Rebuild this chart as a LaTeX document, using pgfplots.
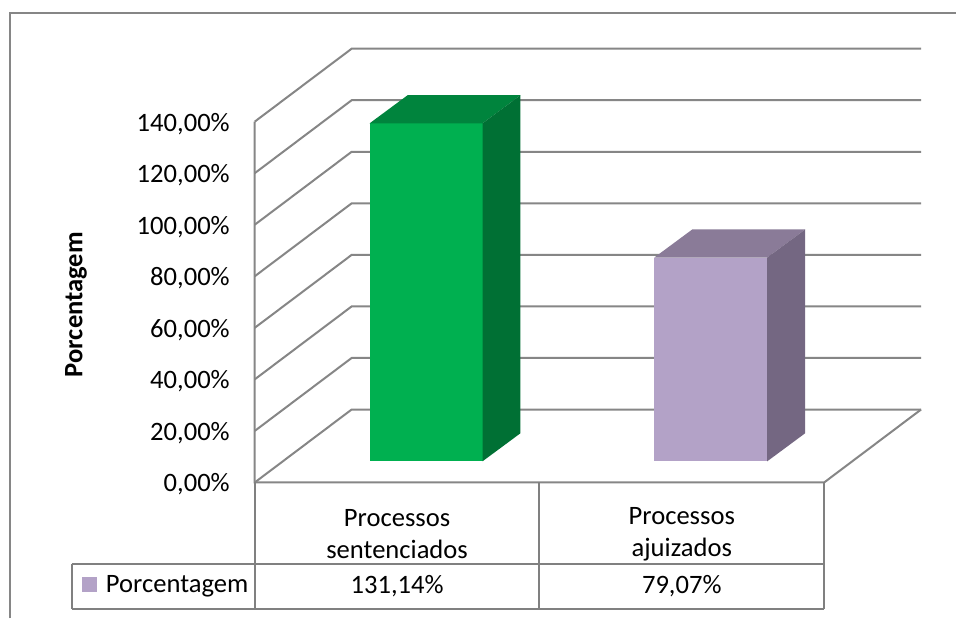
\documentclass[border=0pt]{standalone}
\usepackage{pgfplots}
\pgfplotsset{compat=1.18}
\usepackage{fontspec}
\setmainfont{Carlito}
\definecolor{gridc}{RGB}{134,134,134}
\definecolor{tabc}{RGB}{128,128,128}
\definecolor{gfront}{RGB}{0,176,80}
\definecolor{gtop}{RGB}{0,132,61}
\definecolor{gside}{RGB}{0,112,52}
\definecolor{pfront}{RGB}{179,162,199}
\definecolor{ptop}{RGB}{138,123,152}
\definecolor{pside}{RGB}{116,103,130}
\begin{document}
\begin{tikzpicture}
% data values (percent)
\pgfmathsetmacro\vA{131.14}
\pgfmathsetmacro\vB{79.07}
% 3D geometry: bar base (depth offset) and bar depth in % units
\pgfmathsetmacro\B{8.2}
\pgfmathsetmacro\bd{10.9}
\pgfmathsetmacro\tA{\B+\vA}
\pgfmathsetmacro\tAb{\tA+\bd}
\pgfmathsetmacro\tB{\B+\vB}
\pgfmathsetmacro\tBb{\tB+\bd}
\pgfmathsetmacro\Bb{\B+\bd}
\begin{axis}[x=0.5pt, y=1.29pt, xmin=0, xmax=957, ymin=-52.7, ymax=187.2,
  axis lines=none, clip=false, no markers,
  font=\fontsize{13.3}{16}\selectfont]
\fill[white] (axis cs:0,-52.7) rectangle (axis cs:957,187.2);
% frame
\addplot[gridc, line width=1pt] coordinates {(10,-52.7) (10,182.2) (957,182.2)};
% walls and gridlines
\addplot[gridc, line width=1pt] coordinates {(255,0) (352,28.3) (922,28.3)};
\addplot[gridc, line width=1pt] coordinates {(255,20) (352,48.3) (922,48.3)};
\addplot[gridc, line width=1pt] coordinates {(255,40) (352,68.3) (922,68.3)};
\addplot[gridc, line width=1pt] coordinates {(255,60) (352,88.3) (922,88.3)};
\addplot[gridc, line width=1pt] coordinates {(255,80) (352,108.3) (922,108.3)};
\addplot[gridc, line width=1pt] coordinates {(255,100) (352,128.3) (922,128.3)};
\addplot[gridc, line width=1pt] coordinates {(255,120) (352,148.3) (922,148.3)};
\addplot[gridc, line width=1pt] coordinates {(255,140) (352,168.3) (922,168.3)};
\addplot[gridc, line width=1pt] coordinates {(255,140) (255,0) (825,0) (922,28.3)};
% data table lines
\addplot[tabc, line width=1pt] coordinates {(255,0) (255,-49.2)};
\addplot[tabc, line width=1pt] coordinates {(540,0) (540,-49.2)};
\addplot[tabc, line width=1pt] coordinates {(825,0) (825,-49.2)};
\addplot[tabc, line width=1pt] coordinates {(72,-31.8) (825,-31.8)};
\addplot[tabc, line width=1pt] coordinates {(72,-49.2) (825,-49.2)};
\addplot[tabc, line width=1pt] coordinates {(72,-31.8) (72,-49.2)};
% green bar (Processos sentenciados)
\addplot[fill=gfront, draw=none] coordinates {(370,\B) (483,\B) (483,\tA) (370,\tA)} -- cycle;
\addplot[fill=gtop, draw=none] coordinates {(370,\tA) (483,\tA) (521,\tAb) (408,\tAb)} -- cycle;
\addplot[fill=gside, draw=none] coordinates {(483,\B) (521,\Bb) (521,\tAb) (483,\tA)} -- cycle;
% purple bar (Processos ajuizados)
\addplot[fill=pfront, draw=none] coordinates {(655,\B) (768,\B) (768,\tB) (655,\tB)} -- cycle;
\addplot[fill=ptop, draw=none] coordinates {(655,\tB) (768,\tB) (806,\tBb) (693,\tBb)} -- cycle;
\addplot[fill=pside, draw=none] coordinates {(768,\B) (806,\Bb) (806,\tBb) (768,\tB)} -- cycle;
% legend key
\addplot[fill=pfront, draw=none] coordinates {(82,-36.8) (97,-36.8) (97,-42.6) (82,-42.6)} -- cycle;
% tick labels
\node[anchor=east] at (axis cs:237,-0.8) {0,00\%};
\node[anchor=east] at (axis cs:237,19.2) {20,00\%};
\node[anchor=east] at (axis cs:237,39.2) {40,00\%};
\node[anchor=east] at (axis cs:237,59.2) {60,00\%};
\node[anchor=east] at (axis cs:237,79.2) {80,00\%};
\node[anchor=east] at (axis cs:237,99.2) {100,00\%};
\node[anchor=east] at (axis cs:237,119.2) {120,00\%};
\node[anchor=east] at (axis cs:237,139.2) {140,00\%};
% y label
\node[rotate=90, font=\fontsize{13.3}{16}\selectfont\bfseries] at (axis cs:76,69) {Porcentagem};
% categories
\node[align=center] at (axis cs:397.5,-20) {Processos\\sentenciados};
\node[align=center] at (axis cs:682.5,-20) {Processos\\ajuizados};
% values row
\node[anchor=west] at (axis cs:99,-40.3) {Porcentagem};
\node at (axis cs:397.5,-40.3) {131,14\%};
\node at (axis cs:682.5,-40.3) {79,07\%};
\end{axis}
\end{tikzpicture}
\end{document}
